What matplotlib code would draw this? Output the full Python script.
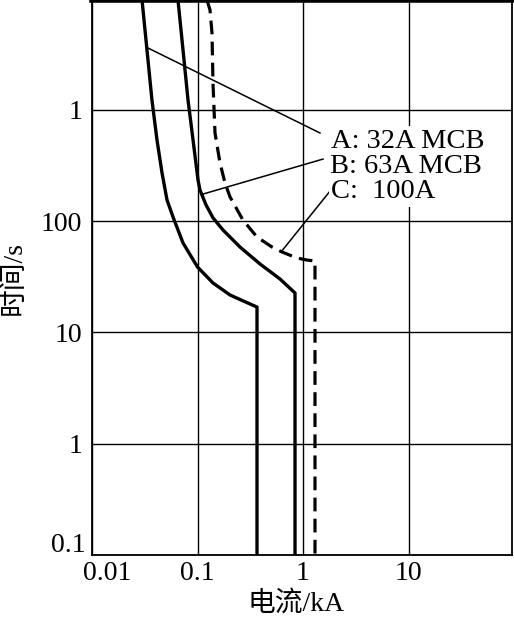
import matplotlib
matplotlib.use("Agg")
import matplotlib.pyplot as plt
import matplotlib.transforms as mtransforms

plt.rcParams['font.family'] = ['Liberation Serif', 'Noto Sans CJK SC', 'DejaVu Sans']

# ------------------------------------------------------------
# data (current in kA, time in s)
# ------------------------------------------------------------
a_i = [0.0298, 0.0332, 0.0370, 0.0413, 0.0461, 0.0514, 0.0586, 0.0729, 0.100, 0.1402, 0.2033, 0.2700, 0.3665, 0.3665]
a_t = [9700, 3445, 1225, 536, 271, 155, 109, 63.6, 38.7, 27.8, 21.7, 19.2, 16.9, 0.1]

b_i = [0.0653, 0.0729, 0.0813, 0.0907, 0.1011, 0.1056, 0.1204, 0.1402, 0.1745, 0.2528, 0.3913, 0.6053, 0.840, 0.840]
b_t = [9700, 3445, 1225, 536, 234, 190, 140, 107, 83.2, 58.5, 41.2, 30.2, 22.6, 0.1]

c_i = [0.1230, 0.1314, 0.1372, 0.1402, 0.1465, 0.1634, 0.1823, 0.2033, 0.2700, 0.3665, 0.5085, 0.6324, 0.877, 1.091, 1.299, 1.299]
c_t = [9700, 7882, 4898, 1741, 619, 333, 220, 165, 102, 71.9, 58.5, 52.8, 46.6, 44.7, 43.8, 0.1]

# leader lines: (current, time) start -> end
lead_a = ([0.0340, 1.449], [3590, 619])
lead_b = ([0.1127, 1.547], [175, 361])
lead_c = ([1.803, 0.6188], [186, 52.8])

labels = ["A: 32A MCB", "B: 63A MCB", "C:  100A"]
label_i = [1.84, 1.82, 1.86]
label_t = [454, 270, 161]

xticks = [0.01, 0.1, 1, 10]
xticklabels = ["0.01", "0.1", "1", "10"]
yticks = [0.1, 1, 10, 100, 1000]
yticklabels = ["0.1", "1", "10", "100", "1"]

# ------------------------------------------------------------
fig = plt.figure(figsize=(5.14, 6.17), dpi=100)
ax = fig.add_axes([92/514, 62/617, 420/514, 555/617])

ax.set_xscale("log")
ax.set_yscale("log")
ax.set_xlim(0.01, 95.7)
ax.set_ylim(0.1, 9700)

ax.grid(True, which="major", color="black", lw=1.0)
ax.minorticks_off()
ax.set_axisbelow(True)

ax.plot(a_i, a_t, color="black", lw=2.4, solid_joinstyle="round", zorder=3)
ax.plot(b_i, b_t, color="black", lw=2.4, solid_joinstyle="round", zorder=3)
ax.plot(c_i, c_t, color="black", lw=2.3, dashes=(4.3, 2.3), zorder=3)

for li, lt in (lead_a, lead_b, lead_c):
    ax.plot(li, lt, color="black", lw=1.1, zorder=3)

for s, xi, yt in zip(labels, label_i, label_t):
    ax.text(xi, yt, s, fontsize=20.5, va="baseline", ha="left", zorder=4,
            bbox=dict(facecolor="white", edgecolor="none", pad=2.0))

ax.set_xticks(xticks)
ax.set_xticklabels(xticklabels)
ax.set_yticks(yticks)
ax.set_yticklabels(yticklabels)
ax.tick_params(length=0, labelsize=20)
ax.tick_params(axis="y", pad=7)
ax.tick_params(axis="x", pad=4)

# first x label sits to the right of its gridline, first y label above the floor
xl = ax.get_xticklabels()[0]
xl.set_horizontalalignment("left")
xl.set_transform(xl.get_transform() + mtransforms.ScaledTranslation(-9/100, 0, fig.dpi_scale_trans))
yl = ax.get_yticklabels()[0]
yl.set_verticalalignment("bottom")
yl.set_transform(yl.get_transform() + mtransforms.ScaledTranslation(3/100, -3/100, fig.dpi_scale_trans))

for sp in ax.spines.values():
    sp.set_linewidth(1.3)
ax.spines["top"].set_linewidth(4)

fig.text(296/514, 1 - 604/617, "电流/kA", fontsize=20, ha="center", va="center")
fig.text(14/514, 1 - 278/617, "时间/s", fontsize=20, ha="center", va="center", rotation=90)

plt.savefig("out.png", dpi=100)
